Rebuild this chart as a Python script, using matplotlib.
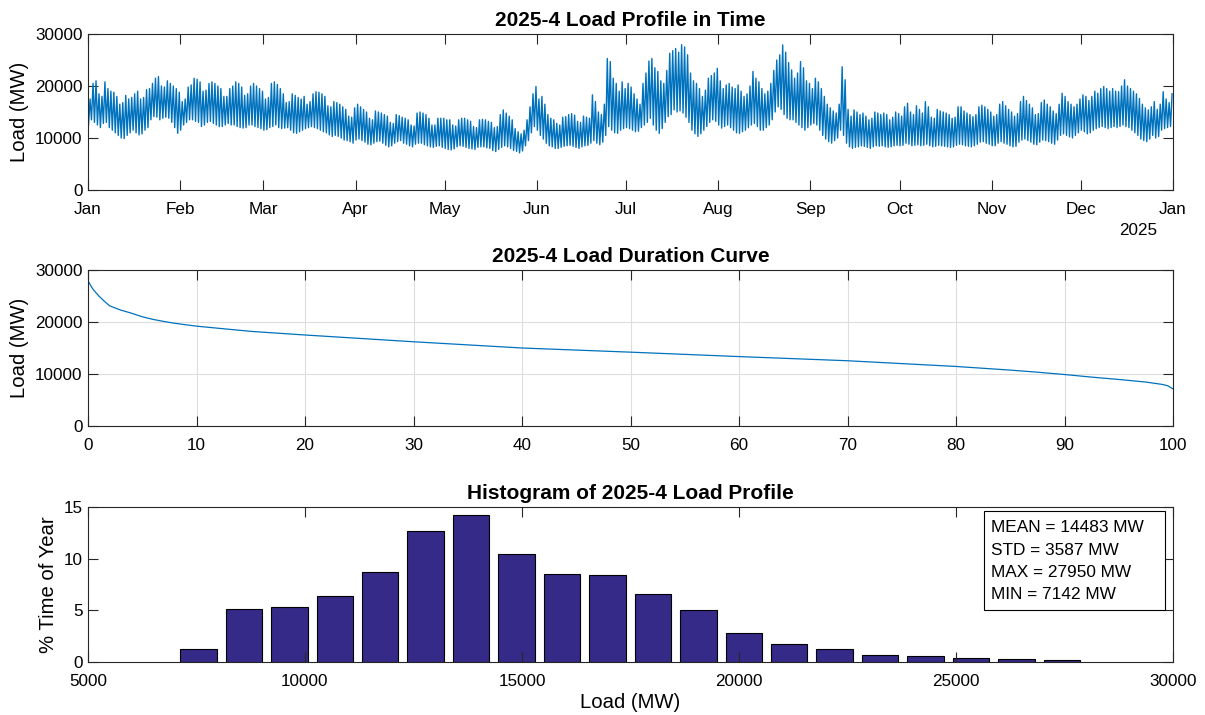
import numpy as np
import matplotlib
matplotlib.use("Agg")
import matplotlib.pyplot as plt
from matplotlib.patches import Rectangle

plt.rcParams['font.family'] = ['Liberation Sans', 'DejaVu Sans']

# daily peak / trough load (thousand MW), one row per week starting Wed 1 Jan 2025
daily_peak_k = [
    17.5, 20.5, 21.0, 18.5, 18.0, 20.8, 19.5,
    19.0, 18.8, 18.0, 16.5, 16.8, 18.2, 17.5,
    17.8, 18.5, 19.0, 17.5, 17.8, 19.3, 19.5,
    20.5, 21.5, 21.8, 20.0, 19.8, 21.0, 20.5,
    20.0, 19.5, 18.8, 17.0, 17.5, 19.8, 20.2,
    21.5, 21.3, 20.8, 19.0, 19.2, 20.5, 20.8,
    20.5, 20.0, 19.5, 18.0, 18.0, 19.5, 20.0,
    20.8, 20.5, 19.8, 18.2, 18.5, 20.0, 20.5,
    20.0, 19.5, 19.0, 17.5, 17.8, 20.5, 20.8,
    20.3, 19.5, 18.5, 16.8, 17.0, 18.5, 18.2,
    17.8, 17.5, 18.0, 16.5, 17.0, 18.5, 18.9,
    18.8, 18.5, 18.0, 16.2, 16.0, 17.0, 16.8,
    16.5, 16.0, 15.5, 14.2, 14.0, 15.8, 16.5,
    16.0, 15.5, 15.0, 13.8, 13.5, 15.2, 15.0,
    14.8, 14.5, 14.2, 13.0, 12.8, 14.5, 14.3,
    14.0, 13.8, 13.5, 12.5, 12.3, 14.8, 15.0,
    14.8, 14.5, 13.8, 12.5, 12.5, 13.8, 13.8,
    13.8, 13.5, 13.5, 12.5, 12.3, 13.5, 13.8,
    13.8, 13.5, 13.2, 12.2, 12.0, 13.5, 13.6,
    13.5, 13.2, 13.0, 12.0, 12.2, 14.5, 15.4,
    14.8, 14.2, 13.5, 11.8, 11.2, 10.8, 11.5,
    13.5, 16.0, 18.5, 19.9, 17.5, 18.0, 16.5,
    14.5, 13.8, 13.5, 12.8, 12.5, 14.0, 14.1,
    14.5, 14.7, 14.4, 13.2, 13.0, 14.2, 14.0,
    13.8, 18.3, 17.0, 15.0, 14.5, 16.5, 25.3,
    24.7, 21.5, 20.5, 19.0, 20.8, 19.5, 20.5,
    19.8, 18.5, 17.5, 16.5, 20.5, 22.5, 24.8,
    25.3, 23.5, 22.8, 21.0, 20.5, 23.0, 26.3,
    26.8, 27.2, 26.5, 27.95, 27.5, 26.0, 22.5,
    21.0, 20.5, 19.5, 18.0, 19.2, 21.5, 22.0,
    22.5, 23.4, 21.0, 19.5, 20.2, 20.5, 19.8,
    19.5, 20.2, 19.0, 18.0, 18.5, 20.0, 22.8,
    21.5, 20.8, 19.5, 18.5, 19.0, 20.5, 23.0,
    25.0, 26.0, 27.9, 26.5, 24.5, 23.1, 21.5,
    22.5, 24.7, 23.5, 21.0, 20.5, 19.5, 21.5,
    20.8, 19.5, 18.0, 16.5, 15.8, 15.2, 14.8,
    16.5, 23.7, 21.2, 15.5, 14.2, 15.4, 15.0,
    14.5, 14.8, 14.2, 13.5, 13.8, 15.0, 14.8,
    14.5, 14.8, 14.5, 13.5, 14.0, 15.0, 14.7,
    14.2, 16.0, 16.7, 15.0, 14.5, 16.2, 15.5,
    14.8, 17.0, 16.0, 14.0, 13.8, 15.5, 15.2,
    15.0, 14.8, 14.5, 13.8, 14.0, 16.0, 16.0,
    15.2, 14.8, 14.5, 14.1, 14.5, 16.0, 16.3,
    16.0, 15.5, 15.0, 14.2, 14.5, 16.5, 17.0,
    16.2, 15.5, 15.0, 14.2, 14.7, 17.0, 18.0,
    17.2, 16.5, 15.8, 14.5, 14.7, 16.8, 17.3,
    16.5, 16.0, 15.2, 14.7, 16.5, 18.6, 18.0,
    17.0, 16.5, 16.0, 16.5, 17.5, 18.3, 18.0,
    17.2, 18.0, 19.0, 18.6, 19.5, 19.9, 19.5,
    19.0, 19.5, 19.0, 18.9, 20.0, 21.2, 20.0,
    19.5, 19.0, 18.5, 17.6, 16.5, 15.8, 15.4,
    16.0, 17.0, 15.5, 16.5, 18.9, 17.5, 16.8,
    18.5,
]
daily_trough_k = [
    12.5, 13.5, 13.0, 12.5, 12.0, 12.8, 13.0,
    12.0, 11.5, 11.0, 10.5, 10.0, 9.9, 10.5,
    11.0, 11.5, 11.0, 10.6, 10.8, 11.5, 12.0,
    13.5, 14.1, 14.0, 13.5, 13.8, 14.0, 13.8,
    13.0, 12.0, 10.9, 11.5, 12.5, 13.0, 13.5,
    13.5, 13.2, 13.0, 12.2, 12.5, 13.0, 13.2,
    12.8, 12.5, 12.2, 12.2, 12.5, 12.8, 12.5,
    12.5, 12.2, 12.0, 11.9, 12.0, 12.5, 12.5,
    12.2, 12.0, 11.8, 11.5, 11.6, 12.0, 12.2,
    12.5, 12.0, 11.8, 11.9, 12.0, 11.5, 11.0,
    10.9, 11.2, 11.5, 11.8, 12.0, 12.2, 12.0,
    11.8, 11.5, 11.2, 11.0, 10.6, 10.3, 10.5,
    10.3, 10.0, 9.6, 9.5, 9.3, 9.0, 9.6,
    9.8, 9.5, 9.2, 8.8, 8.7, 9.0, 9.3,
    9.4, 9.0, 8.6, 8.3, 8.5, 9.0, 9.3,
    9.5, 9.0, 8.8, 8.5, 8.3, 8.8, 9.0,
    9.0, 8.7, 8.5, 8.3, 8.2, 8.4, 8.5,
    8.2, 8.0, 7.8, 7.7, 7.9, 8.3, 8.5,
    8.4, 8.2, 8.0, 7.9, 7.8, 8.2, 8.3,
    8.3, 8.1, 8.0, 7.6, 7.4, 7.8, 8.2,
    8.5, 8.3, 8.0, 7.6, 7.4, 7.142, 7.5,
    8.5, 9.5, 11.0, 12.2, 11.5, 10.5, 9.8,
    9.0, 8.5, 8.3, 8.0, 8.0, 8.2, 8.4,
    8.5, 8.6, 8.4, 8.2, 8.0, 8.3, 8.5,
    8.6, 9.0, 9.5, 9.0, 8.7, 9.2, 10.5,
    12.2, 11.5, 11.0, 10.9, 11.5, 11.8, 12.0,
    11.8, 11.5, 11.2, 11.3, 12.0, 12.5, 13.0,
    13.8, 12.5, 11.5, 10.9, 11.8, 13.0, 14.1,
    14.5, 15.4, 15.0, 15.2, 14.8, 14.0, 13.0,
    11.5, 10.8, 10.3, 10.8, 11.5, 12.2, 13.0,
    13.5, 13.2, 12.5, 11.9, 12.2, 12.5, 12.0,
    11.5, 11.0, 10.9, 11.2, 11.5, 12.0, 12.5,
    12.8, 12.2, 11.5, 11.5, 12.0, 12.5, 13.5,
    15.0, 16.0, 15.5, 14.5, 13.8, 13.5, 13.5,
    13.0, 12.5, 12.0, 11.5, 12.0, 12.5, 12.8,
    12.5, 11.5, 10.5, 9.8, 9.3, 9.0, 9.5,
    10.0, 11.5, 10.5, 9.0, 8.3, 8.0, 8.2,
    8.3, 8.5, 8.4, 8.2, 8.0, 8.3, 8.5,
    8.4, 8.5, 8.3, 8.2, 8.3, 8.5, 8.6,
    8.5, 8.6, 9.0, 8.8, 8.5, 8.6, 8.7,
    8.5, 8.6, 8.8, 8.5, 8.3, 8.4, 8.6,
    8.5, 8.4, 8.3, 8.2, 8.3, 8.6, 8.8,
    8.7, 8.5, 8.4, 8.3, 8.5, 8.8, 9.2,
    9.3, 9.0, 8.8, 8.5, 8.5, 9.0, 9.3,
    9.0, 8.8, 8.5, 8.3, 8.4, 9.2, 9.6,
    9.8, 9.5, 9.2, 8.8, 8.7, 9.2, 9.6,
    9.5, 9.3, 9.0, 8.8, 9.6, 10.5, 10.8,
    10.5, 10.2, 10.0, 10.5, 11.0, 11.5, 11.2,
    10.8, 11.0, 11.5, 11.8, 12.0, 12.2, 12.0,
    11.8, 12.0, 12.2, 12.0, 12.2, 12.5, 12.2,
    12.0, 11.5, 11.0, 10.5, 9.8, 9.5, 9.3,
    9.8, 10.5, 10.0, 10.3, 11.5, 11.8, 12.0,
    12.2,
]

month_start_day = [0, 31, 59, 90, 120, 151, 181, 212, 243, 273, 304, 334, 365]
month_labels = ['Jan', 'Feb', 'Mar', 'Apr', 'May', 'Jun', 'Jul',
                'Aug', 'Sep', 'Oct', 'Nov', 'Dec', 'Jan']

# load duration curve, % of time vs load (MW)
dur_pct = [0, 0.25, 0.5, 1, 1.5, 2, 2.5, 3, 4, 5, 6, 7, 8, 10, 15, 20, 30,
           40, 50, 60, 70, 80, 82.5, 85, 87.5, 90, 92.5, 95, 97.5, 99, 99.5, 100]
dur_load = [27950, 27000, 26200, 25000, 24000, 23100, 22700, 22300, 21700,
            21000, 20500, 20100, 19750, 19200, 18200, 17500, 16200, 15000,
            14200, 13350, 12550, 11450, 11100, 10750, 10350, 9900, 9400,
            8950, 8450, 8000, 7750, 7142]

# histogram: % time of year per 20 bins
hist_pct = [1.23, 5.13, 5.29, 6.39, 8.74, 12.65, 14.25, 10.42, 8.52, 8.42,
            6.61, 5.0, 2.8, 1.7, 1.3, 0.68, 0.55, 0.39, 0.28, 0.19]
hist_centers = np.linspace(7545, 27440, len(hist_pct))

mean_mw, std_mw, max_mw, min_mw = 14483, 3587, 27950, 7142

blue = '#0072BD'
axcol = '#262626'
tick_fs, label_fs, title_fs = 12.3, 14.6, 15

fig = plt.figure(figsize=(12.05, 7.15), dpi=100)
left, width = 88 / 1205, 1085 / 1205
ax1 = fig.add_axes([left, 1 - 190 / 715, width, 156 / 715])
ax2 = fig.add_axes([left, 1 - 426 / 715, width, 156 / 715])
ax3 = fig.add_axes([left, 1 - 662 / 715, width, 155 / 715])

for ax in (ax1, ax2, ax3):
    for s in ax.spines.values():
        s.set_color(axcol)
        s.set_linewidth(0.8)
    ax.tick_params(direction='in', length=7, width=0.8, colors=axcol,
                   labelcolor='black', labelsize=tick_fs, top=True, right=True)
    ax.tick_params(axis='x', pad=8.5)
    ax.tick_params(axis='y', pad=4)

# time series: trough early morning, peak late afternoon each day
days = np.arange(len(daily_peak_k))
t = np.empty(2 * len(days))
t[0::2] = days + 0.17
t[1::2] = days + 0.7
load = np.empty(2 * len(days))
load[0::2] = np.array(daily_trough_k) * 1000
load[1::2] = np.array(daily_peak_k) * 1000

ax1.plot(t, load, color=blue, lw=1.0)
ax1.set_xlim(0, 365)
ax1.set_ylim(0, 30000)
ax1.set_xticks(month_start_day)
ax1.set_xticklabels(month_labels)
ax1.set_yticks([0, 10000, 20000, 30000])
ax1.set_ylabel('Load (MW)', fontsize=label_fs)
ax1.set_title('2025-4 Load Profile in Time', fontsize=title_fs, fontweight='bold', pad=6)
ax1.text(0.968, -0.258, '2025', transform=ax1.transAxes, ha='center',
         va='center', fontsize=tick_fs)

ax2.plot(dur_pct, dur_load, color=blue, lw=0.9)
ax2.set_xlim(0, 100)
ax2.set_ylim(0, 30000)
ax2.set_xticks(np.arange(0, 101, 10))
ax2.set_yticks([0, 10000, 20000, 30000])
ax2.grid(True, color='#dedede', lw=0.8)
ax2.set_axisbelow(True)
ax2.set_ylabel('Load (MW)', fontsize=label_fs)
ax2.set_title('2025-4 Load Duration Curve', fontsize=title_fs, fontweight='bold', pad=6)

step = hist_centers[1] - hist_centers[0]
ax3.bar(hist_centers, hist_pct, width=0.8 * step, color='#352A87',
        edgecolor='black', linewidth=0.8)
ax3.set_xlim(5000, 30000)
ax3.set_ylim(0, 15)
ax3.set_xticks(np.arange(5000, 30001, 5000))
ax3.set_yticks([0, 5, 10, 15])
ax3.set_xlabel('Load (MW)', fontsize=label_fs, labelpad=3)
ax3.set_ylabel('% Time of Year', fontsize=label_fs)
ax3.set_title('Histogram of 2025-4 Load Profile', fontsize=title_fs, fontweight='bold', pad=6)

ax3.add_patch(Rectangle((0.8258, 0.337), 0.1668, 0.64, transform=ax3.transAxes,
                        facecolor='white', edgecolor='black', lw=0.8, zorder=5))
stats = [f'MEAN = {mean_mw} MW', f'STD = {std_mw} MW',
         f'MAX = {max_mw} MW', f'MIN = {min_mw} MW']
for i, line in enumerate(stats):
    ax3.text(0.8318, 0.866 - i * 0.1443, line, transform=ax3.transAxes,
             ha='left', va='center', fontsize=12.4, zorder=6)

fig.savefig('out.png', dpi=100)
